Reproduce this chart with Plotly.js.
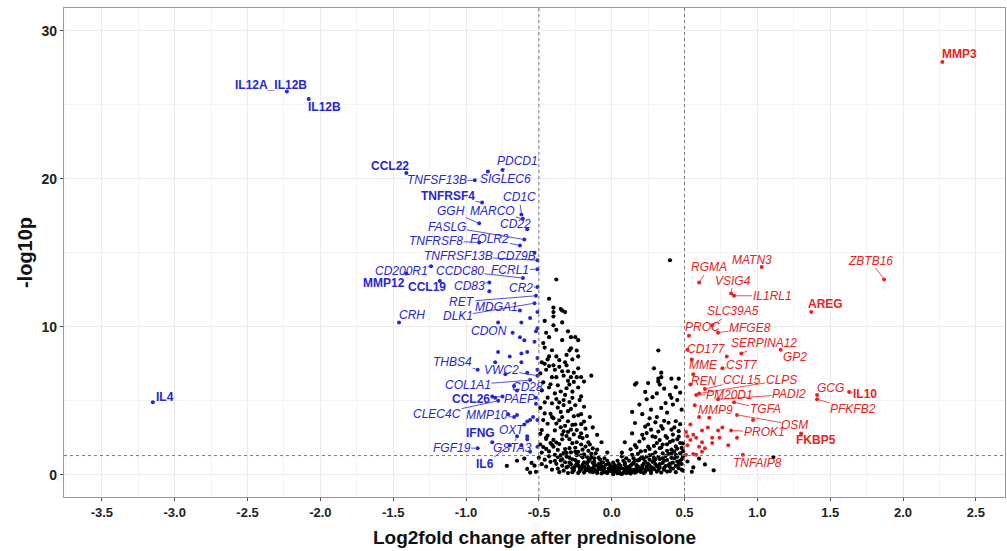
<!DOCTYPE html>
<html>
<head>
<meta charset="utf-8">
<script src="https://cdn.plot.ly/plotly-3.0.1.min.js"></script>
<style>
  html, body { margin: 0; padding: 0; background: #ffffff; }
  #chart { width: 1007px; height: 551px; }
</style>
</head>
<body>
<div id="chart"></div>
<script>
// ---------------- DATA ----------------
// Labelled down-regulated genes (blue)
const blueGenes = ["IL12A_IL12B","IL12B","CCL22","TNFSF13B","SIGLEC6","PDCD1","TNFRSF4","CD1C","GGH","MARCO","CD22","FASLG","TNFRSF8","FOLR2","TNFRSF13B","CD79B","CD200R1","CCDC80","FCRL1","MMP12","CCL19","CD83","CR2","RET","MDGA1","DLK1","CRH","CDON","THBS4","VWC2","COL1A1","CD28","CCL26","PAEP","CLEC4C","MMP10","OXT","IFNG","FGF19","GSTA3","IL6","IL4"];
const blueGeneX = [-2.23,-2.08,-1.41,-0.94,-0.85,-0.75,-0.89,-0.62,-0.91,-0.61,-0.58,-0.60,-0.91,-0.63,-0.51,-0.53,-1.24,-0.61,-0.51,-1.41,-1.18,-0.84,-0.51,-0.52,-0.63,-0.53,-1.46,-0.78,-0.92,-0.51,-0.56,-0.65,-0.75,-0.52,-0.78,-0.67,-0.58,-0.82,-0.92,-0.65,-0.70,-3.15];
const blueGeneY = [25.9,25.4,20.4,19.9,20.5,20.6,18.4,17.6,17.0,17.3,16.6,15.9,15.7,15.5,14.5,15.0,14.1,13.3,13.9,13.6,13.1,13.0,12.7,12.1,11.1,11.6,10.3,10.3,7.1,6.7,6.4,5.7,5.3,4.8,5.0,3.9,3.6,2.2,1.8,2.6,2.0,4.9];
// Unlabelled down-regulated genes (blue)
const blueOtherX = [-0.84,-0.56,-0.62,-0.51,-0.52,-0.68,-0.63,-0.60,-0.53,-0.51,-0.78,-0.70,-0.62,-0.58,-0.80,-0.62,-0.51,-0.51,-0.58,-0.67,-0.80,-0.54,-0.56,-0.60,-0.51,-0.58,-0.58,-0.62,-0.82,-0.71,-0.65,-0.52,-0.51,-0.56,-0.73];
const blueOtherY = [12.4,10.6,10.3,9.9,9.7,9.6,9.3,9.1,9.0,11.0,8.3,8.0,8.2,8.3,7.6,7.6,7.9,7.1,6.9,6.0,5.2,3.9,3.7,3.4,3.7,2.6,2.4,2.0,5.3,4.1,4.05,5.2,1.9,1.55,6.8];
// Labelled up-regulated genes (red)
const redGenes = ["MMP3","RGMA","MATN3","ZBTB16","VSIG4","IL1RL1","AREG","SLC39A5","PROC","MFGE8","SERPINA12","GP2","CD177","CST7","MME","REN","CCL15","CLPS","PM20D1","PADI2","GCG","IL10","PFKFB2","MMP9","TGFA","OSM","PROK1","FKBP5","TNFAIP8"];
const redGeneX = [2.27,0.60,1.03,1.87,0.82,0.84,1.37,0.69,0.53,0.73,0.89,1.16,0.79,0.76,0.56,0.54,0.64,0.60,0.58,0.73,1.41,1.63,1.41,0.60,0.84,0.86,0.82,1.30,0.90];
const redGeneY = [27.9,13.0,14.05,13.2,12.25,12.1,11.0,10.1,9.4,9.6,8.2,8.45,8.0,7.2,6.8,6.1,5.8,5.5,5.4,5.1,5.4,5.6,5.1,3.9,4.9,4.05,3.0,2.8,1.35];
// Unlabelled up-regulated genes (red)
const redOtherX = [0.54,0.56,0.62,0.62,0.60,0.62,0.69,0.73,0.66,0.52,0.51,0.58,0.57,0.51,0.52,0.54,0.58,0.64,0.69,0.74,0.76,0.86,0.97,0.56,0.52,0.55,0.67,0.80];
const redOtherY = [3.4,2.7,3.0,2.2,1.9,1.55,2.5,3.0,3.2,2.0,1.35,1.35,4.7,2.9,2.6,2.35,2.5,1.8,2.15,2.5,3.2,2.5,3.7,1.4,8.45,7.8,3.85,2.0];
// Non-significant genes (black)
const nsPoints = [
 [-0.38,13.2],[-0.43,11.9],[-0.40,11.3],[-0.35,11.2],[-0.34,11.1],[-0.32,11.0],[-0.40,11.0],[-0.40,10.7],[-0.34,10.3],[-0.46,10.4],
 [-0.40,10.1],[-0.38,9.8],[-0.30,9.7],[-0.45,9.6],[-0.43,9.3],[-0.34,9.1],[-0.28,9.3],[-0.25,9.3],[-0.23,9.1],[-0.47,8.9],
 [-0.46,8.6],[-0.29,8.4],[-0.24,8.4],[-0.31,8.1],[-0.23,8.0],[-0.43,8.0],[-0.44,7.8],[-0.38,8.0],[-0.27,7.8],[-0.32,7.6],
 [-0.48,7.6],[-0.46,7.5],[-0.40,7.4],[-0.36,7.3],[-0.31,7.4],[-0.23,7.2],[-0.45,7.1],[-0.39,7.1],[-0.34,7.0],[-0.30,7.0],
 [-0.26,6.9],[-0.14,6.7],[-0.41,6.6],[-0.38,6.6],[-0.33,6.7],[-0.28,6.6],[-0.24,6.6],[-0.21,6.6],
 [-0.19,6.3],[-0.29,6.1],[-0.23,5.9],[-0.43,5.9],[-0.48,5.7],[-0.39,5.5],[-0.32,5.4],[-0.27,5.2],[-0.21,5.3],[-0.46,4.9],
 [-0.36,4.9],[-0.25,4.7],[-0.19,4.6],[-0.30,4.3],[-0.21,4.1],[-0.15,3.9],[-0.41,3.9],[-0.47,3.7],[-0.34,3.9],[-0.19,3.6],
 [-0.25,3.4],[-0.13,3.2],[-0.39,3.0],[-0.30,2.9],[-0.21,2.8],[-0.10,2.7],[-0.45,2.5],[-0.34,2.4],[-0.24,2.2],[-0.16,2.2],
 [-0.07,2.2],[-0.40,1.9],[-0.29,1.8],[-0.20,1.7],[-0.10,1.7],[-0.03,1.5],[-0.48,1.5],[-0.37,1.2],[-0.25,1.0],[-0.16,0.9],
 [-0.07,0.8],[0.01,0.5],[-0.31,0.5],[-0.21,0.5],[-0.12,0.35],[-0.03,0.2],[0.04,0.1],
 [0.16,6.1],[0.23,5.6],[0.24,5.1],[0.31,5.5],[0.32,6.3],[0.34,6.6],[0.40,5.4],[0.41,5.2],[0.27,4.4],[0.21,4.1],
 [0.31,3.9],[0.38,4.2],[0.48,4.4],[0.16,3.5],[0.25,3.4],[0.34,3.3],[0.43,3.2],[0.14,2.8],[0.21,2.7],[0.28,2.6],
 [0.38,2.5],[0.45,2.4],[0.09,2.2],[0.16,2.0],[0.25,1.9],[0.33,1.8],[0.41,1.7],[0.49,1.6],[0.07,1.5],[0.14,1.35],
 [0.21,1.2],[0.29,1.15],[0.38,1.0],[0.45,0.9],[0.09,0.7],[0.18,0.55],[0.27,0.5],[0.36,0.35],[0.11,0.2],[0.23,0.2],
 [0.32,8.4],[0.29,7.2],[0.34,6.9],[0.17,6.2],[0.25,6.2],[0.32,6.5],[0.41,6.5],[0.46,6.5],[0.33,6.1],[0.40,14.5],
 [-0.03,0.12],[0.01,0.04],[0.04,0.18],[-0.07,0.09],[0.07,0.05],[-0.11,0.22],[0.11,0.15],[-0.06,0.31],[0.09,0.27],[-0.15,0.41],
 [0.15,0.33],[-0.13,0.18],[0.13,0.08],[-0.19,0.55],[0.19,0.44],[-0.17,0.73],[0.17,0.21],[-0.21,0.36],[0.21,0.62],[-0.23,0.88],
 [0.23,0.37],[-0.25,0.61],[0.25,0.74],[-0.27,1.04],[0.27,0.29],[-0.29,0.83],[0.29,0.93],[-0.31,1.22],[0.31,0.58],[-0.33,1.47],
 [0.33,1.06],[-0.35,0.97],[0.35,0.81],[-0.37,1.68],[0.37,1.27],[-0.39,1.35],[0.39,0.66],[-0.41,2.03],[0.41,1.43],[-0.43,1.58],
 [0.43,1.12],[-0.45,2.42],[0.45,1.76],[-0.47,1.88],[0.47,0.95],[-0.49,2.77],[0.49,2.12],[-0.02,0.27],[0.03,0.35],[-0.09,0.48],
 [0.06,0.42],[-0.12,0.66],[0.10,0.52],[-0.16,0.94],[0.14,0.71],[-0.20,1.18],[0.18,0.97],[-0.24,1.33],[0.22,1.08],[-0.28,1.52],
 [0.26,1.31],[-0.32,1.74],[0.30,1.52],[-0.36,2.08],[0.34,1.84],[-0.40,2.36],[0.38,2.06],[-0.44,2.65],[0.42,2.31],[-0.48,3.02],
 [0.46,2.58],[-0.14,0.28],[0.12,0.24],[-0.18,0.31],[0.16,0.14],[-0.22,0.47],[0.20,0.19],[-0.26,0.42],[0.24,0.55],[-0.30,0.56],
 [0.28,0.47],[-0.34,0.62],[0.32,0.33],[-0.38,0.74],[0.36,0.46],[-0.42,0.88],[0.40,0.52],[-0.46,1.02],[0.44,0.61],[-0.50,1.15],
 [0.48,0.73],[-0.55,0.8],[-0.60,1.1],[-0.58,0.4],[-0.65,0.95],[-0.72,0.6],[-0.52,0.2],[0.52,0.9],[0.56,0.5],[0.60,1.1],
 [0.64,0.7],[0.70,0.3],[0.55,0.2],[1.11,1.2],[-0.56,0.15],[-0.53,0.62],
 [-0.11,0.62],[-0.13,0.81],[-0.15,1.05],[-0.17,1.21],[-0.19,1.38],[-0.12,1.12],[-0.14,1.41],[-0.16,1.62],[-0.18,1.91],[-0.21,2.05],
 [-0.23,1.55],[-0.25,1.83],[-0.27,2.14],[-0.29,2.41],[-0.22,2.56],[-0.26,2.73],[-0.28,3.05],[-0.31,2.62],[-0.33,2.94],[-0.35,3.21],
 [-0.24,3.02],[-0.27,3.37],[-0.30,3.62],[-0.32,3.31],[-0.36,3.68],[-0.38,3.46],[-0.40,3.83],[-0.42,4.12],[-0.35,4.25],[-0.37,4.54],
 [-0.33,4.71],[-0.28,4.45],[-0.23,4.02],[-0.18,3.12],[-0.20,2.48],[-0.15,2.05],[-0.13,1.78],[-0.09,1.15],[-0.08,0.62],[-0.06,0.53],
 [-0.44,3.45],[-0.46,4.15],[-0.49,4.52],[-0.44,5.21],[-0.41,4.83],[-0.38,5.12],[-0.35,5.63],[-0.31,5.85],[-0.27,5.62],[-0.22,5.05],
 [-0.47,6.25],[-0.42,6.12],[-0.37,6.05],[-0.30,6.35],[-0.26,6.28],[-0.49,6.85],[-0.43,7.35],[-0.36,7.75],[-0.28,8.55],[-0.41,8.42],
 [-0.33,5.05],[-0.29,4.92],[-0.26,3.95],[-0.21,3.42],[-0.17,2.62],[-0.34,2.72],[-0.38,2.18],[-0.42,2.15],[-0.45,1.75],[-0.49,2.05],
 [-0.43,1.25],[-0.39,0.95],[-0.35,1.32],[-0.32,0.85],[-0.28,0.72],[-0.24,0.78],[-0.20,0.68],[-0.18,0.42],[-0.15,0.22],[-0.10,0.12],
 [-0.27,0.18],[-0.23,0.12],[-0.33,0.28],[-0.37,0.42],[-0.41,0.35],[-0.45,0.55],[-0.48,0.72],[-0.08,0.38],[-0.05,0.45],[-0.04,0.68],
 [0.02,0.22],[0.05,0.28],[0.06,0.08],[0.08,0.42],[0.10,0.12],[0.12,0.55],[0.13,0.35],[0.15,0.82],[0.17,0.45],[0.19,1.02],
 [0.20,0.32],[0.22,0.75],[0.24,1.22],[0.26,0.62],[0.28,0.88],[0.30,1.05],[0.31,0.22],[0.33,0.72],[0.35,1.12],[0.37,0.58],
 [0.39,1.42],[0.40,0.25],[0.42,0.82],[0.44,1.35],[0.46,0.45],[0.48,1.05],[0.49,0.28],[0.12,0.95],[0.15,1.12],[0.18,1.42],
 [0.20,1.58],[0.23,1.62],[0.26,1.75],[0.29,1.95],[0.31,2.15],[0.33,2.35],[0.35,2.05],[0.37,2.62],[0.40,2.22],[0.42,2.72],
 [0.44,1.92],[0.46,2.95],[0.48,1.82],[0.13,1.72],[0.17,1.85],[0.19,2.25],[0.22,2.45],[0.24,2.82],[0.27,3.05],[0.30,2.55],
 [0.32,2.92],[0.35,3.12],[0.36,3.65],[0.39,3.52],[0.41,3.05],[0.44,3.62],[0.47,3.42],[0.30,3.55],[0.26,3.82],[0.23,3.25],
 [0.34,4.52],[0.37,4.85],[0.42,4.75],[0.45,5.05],[0.47,5.55],[0.44,5.92],[0.36,5.82],[0.28,5.25],[0.19,4.75],[0.14,4.25],
 [0.03,0.55],[0.05,0.72],[0.08,0.95],[0.10,1.12],[0.07,1.25],[0.04,0.95],[0.01,0.82],[-0.01,0.62],[0.02,0.38],[-0.01,0.32],
 [-0.30,0.12],[-0.26,0.30],[-0.22,0.25],[-0.19,0.15],[-0.16,0.52],[-0.13,0.45],[-0.10,0.28],[-0.07,0.55],[-0.05,0.18],[-0.02,0.42],
 [0.00,0.22],[0.02,0.65],[0.04,0.45],[0.06,0.60],[0.08,0.15],[0.09,0.82],[0.11,0.38],[0.13,0.62],[0.14,0.18],[0.16,0.95],
 [0.17,0.65],[0.18,0.28],[0.20,1.12],[0.21,0.45],[0.22,0.12],[0.23,0.88],[0.25,0.35],[0.26,1.02],[0.27,0.12],[0.28,1.35],
 [0.29,0.38],[0.30,0.72],[0.32,1.22],[0.33,0.48],[0.34,0.15],[0.35,1.45],[0.36,0.95],[0.38,0.22],[0.38,1.62],[0.40,0.75],
 [0.41,1.15],[0.42,0.42],[0.43,1.58],[0.44,0.18],[0.45,1.22],[0.46,0.72],[0.47,1.45],[0.48,0.35],[0.49,1.25],[0.47,2.15],
 [-0.36,0.18],[-0.34,1.05],[-0.31,1.48],[-0.29,1.15],[-0.27,0.45],[-0.25,1.55],[-0.23,0.62],[-0.21,1.32],[-0.19,0.85],[-0.17,0.32],
 [-0.14,1.20],[-0.12,0.88],[-0.11,1.45],[-0.09,0.72],[-0.08,1.02],[-0.06,0.85],[-0.05,1.12],[-0.03,0.95],[-0.02,0.75],[0.00,0.42]
];
const boldGenes = ["IL12A_IL12B","IL12B","CCL22","TNFRSF4","MMP12","CCL19","CCL26","IFNG","IL6","IL4","MMP3","AREG","IL10","FKBP5"];
const xTickVals = [-3.5,-3.0,-2.5,-2.0,-1.5,-1.0,-0.5,0.0,0.5,1.0,1.5,2.0,2.5];
const xTickText = ["-3.5","-3.0","-2.5","-2.0","-1.5","-1.0","-0.5","0.0","0.5","1.0","1.5","2.0","2.5"];
const fcCut = 0.5, pCut = 1.3;

// ---------------- LAYOUT (label offsets in pixels) ----------------
const labelOffset = {
 "IL12A_IL12B":[-16,-7],"IL12B":[16,8],"CCL22":[-16,-7],"TNFSF13B":[-38,0],"SIGLEC6":[18,8],"PDCD1":[15,-9],
 "TNFRSF4":[-34,-7],"CD1C":[-2,-17],"GGH":[-28,-12],"MARCO":[-30,-8],"CD22":[-12,-5],"FASLG":[-77,-13],
 "TNFRSF8":[-43,-2],"FOLR2":[-30,-6],"TNFRSF13B":[-79,-4],"CD79B":[-18,3],"CD200R1":[-30,5],"CCDC80":[-63,-7],
 "FCRL1":[-27,1],"MMP12":[-22,9],"CCL19":[-13,6],"CD83":[-20,4],"CR2":[-16,1],"RET":[-74,6],"MDGA1":[-23,-4],
 "DLK1":[-77,13],"CRH":[13,-7],"CDON":[-9,9],"THBS4":[-25,-8],"VWC2":[-36,-6],"COL1A1":[-62,5],"CD28":[10,-3],
 "CCL26":[-31,3],"PAEP":[-16,-5],"CLEC4C":[-61,13],"MMP10":[-27,-2],"OXT":[-15,8],"IFNG":[-12,-9],"FGF19":[-26,0],
 "GSTA3":[-5,12],"IL6":[-25,19],"IL4":[12,-5],
 "MMP3":[17,-8],"RGMA":[10,-15],"MATN3":[-10,-7],"ZBTB16":[-14,-19],"VSIG4":[2,-13],"IL1RL1":[38,0],"AREG":[14,-8],
 "SLC39A5":[21,-14],"PROC":[14,-9],"MFGE8":[32,-5],"SERPINA12":[23,-10],"GP2":[14,7],"CD177":[-20,-7],"CST7":[20,-3],
 "MME":[10,-9],"REN":[14,-4],"CCL15":[37,-9],"CLPS":[82,-13],"PM20D1":[33,0],"PADI2":[71,-5],"GCG":[13,-7],
 "IL10":[16,2],"PFKFB2":[36,10],"MMP9":[16,-7],"TGFA":[31,7],"OSM":[58,10],"PROK1":[33,2],"FKBP5":[15,7],"TNFAIP8":[15,8]
};

const BLUE = "rgb(38,38,215)";
const RED = "rgb(232,34,34)";
const FONT = "Liberation Sans, Arial, Helvetica, sans-serif";

const traces = [
  { type: "scatter", mode: "markers", x: nsPoints.map(p => p[0]), y: nsPoints.map(p => p[1]),
    marker: { color: "#000000", size: 4.2 }, hoverinfo: "skip", showlegend: false },
  { type: "scatter", mode: "markers", x: blueOtherX.concat(blueGeneX), y: blueOtherY.concat(blueGeneY),
    marker: { color: BLUE, size: 4 }, hoverinfo: "skip", showlegend: false },
  { type: "scatter", mode: "markers", x: redOtherX.concat(redGeneX), y: redOtherY.concat(redGeneY),
    marker: { color: RED, size: 4 }, hoverinfo: "skip", showlegend: false }
];

function makeAnn(name, x, y, color) {
  const bold = boldGenes.indexOf(name) >= 0;
  const off = labelOffset[name] || [10, -8];
  return {
    x: x, y: y, xref: "x", yref: "y",
    text: bold ? "<b>" + name + "</b>" : "<i>" + name + "</i>",
    showarrow: true, arrowhead: 0, arrowwidth: 0.8, arrowcolor: color, standoff: 2,
    ax: off[0], ay: off[1],
    font: { family: FONT, size: 12, color: color },
    borderpad: 0
  };
}
const annotations = [];
blueGenes.forEach((g, i) => annotations.push(makeAnn(g, blueGeneX[i], blueGeneY[i], BLUE)));
redGenes.forEach((g, i) => annotations.push(makeAnn(g, redGeneX[i], redGeneY[i], RED)));

const dotLine = { color: "#777777", width: 1, dash: "dot" };
const layout = {
  width: 1007, height: 551,
  margin: { l: 64, r: 2, t: 8, b: 54 },
  paper_bgcolor: "#ffffff", plot_bgcolor: "#ffffff",
  showlegend: false,
  xaxis: {
    range: [-3.76, 2.70], tickvals: xTickVals, ticktext: xTickText,
    showgrid: true, gridcolor: "#ebebeb", gridwidth: 1,
    minor: { dtick: 0.25, tick0: 0, showgrid: true, gridcolor: "#f3f3f3", gridwidth: 1 },
    zeroline: false, showline: true, mirror: true, linecolor: "#9a9a9a", linewidth: 1.2,
    ticks: "outside", ticklen: 3, tickcolor: "#555",
    tickfont: { family: FONT, size: 13, color: "#222", weight: "bold" },
    title: { text: "<b>Log2fold change after prednisolone</b>", font: { family: FONT, size: 19, color: "#111" }, standoff: 12 }
  },
  yaxis: {
    range: [-1.5, 31.55], tickvals: [0, 10, 20, 30],
    showgrid: true, gridcolor: "#ebebeb", gridwidth: 1,
    minor: { tickvals: [5, 15, 25], showgrid: true, gridcolor: "#f3f3f3", gridwidth: 1 },
    zeroline: false, showline: true, mirror: true, linecolor: "#9a9a9a", linewidth: 1.2,
    ticks: "outside", ticklen: 3, tickcolor: "#555",
    tickfont: { family: FONT, size: 14, color: "#222", weight: "bold" },
    title: { text: "<b>-log10p</b>", font: { family: FONT, size: 20, color: "#111" }, standoff: 3 }
  },
  shapes: [
    { type: "line", xref: "x", yref: "paper", x0: -fcCut, x1: -fcCut, y0: 0, y1: 1, line: dotLine, layer: "above" },
    { type: "line", xref: "x", yref: "paper", x0: fcCut, x1: fcCut, y0: 0, y1: 1, line: dotLine, layer: "above" },
    { type: "line", xref: "paper", yref: "y", x0: 0, x1: 1, y0: pCut, y1: pCut, line: dotLine, layer: "above" }
  ],
  annotations: annotations
};

Plotly.newPlot("chart", traces, layout, { staticPlot: true, displayModeBar: false });
</script>
</body>
</html>
